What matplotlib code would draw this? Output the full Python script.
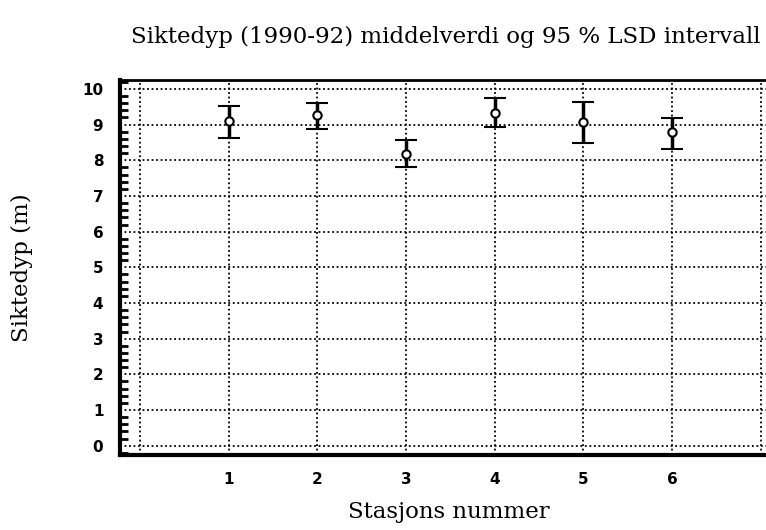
import numpy as np
import matplotlib.pyplot as plt
from matplotlib.ticker import MultipleLocator

stasjon = [1, 2, 3, 4, 5, 6]
middel = [9.09, 9.28, 8.17, 9.32, 9.06, 8.79]
ovre = [9.51, 9.60, 8.56, 9.74, 9.62, 9.19]
nedre = [8.63, 8.88, 7.80, 8.94, 8.49, 8.31]

yerr = [np.array(middel) - np.array(nedre), np.array(ovre) - np.array(middel)]

fig = plt.figure(figsize=(7.66, 5.30), dpi=100)
ax = fig.add_axes([120/766, 1 - 455/530, 646/766, 375/530])

ax.errorbar(stasjon, middel, yerr=yerr, fmt='o', color='black', mfc='white',
            mec='black', ms=6, mew=1.5, elinewidth=2.5, capsize=8, capthick=3.5,
            zorder=3)

ax.set_xlim(-0.226, 7.06)
ax.set_ylim(-0.26, 10.25)
ax.set_xticks(range(0, 8))
ax.set_xticklabels(['', '1', '2', '3', '4', '5', '6', ''])
ax.set_yticks(range(0, 11))
ax.yaxis.set_minor_locator(MultipleLocator(0.2))

ax.grid(True, which='major', color='black', linestyle=(0, (1, 1.5)), linewidth=1.3)
ax.tick_params(axis='x', length=0, labelsize=11, pad=12)
ax.tick_params(axis='y', which='major', direction='in', length=0, labelsize=11, pad=12)
ax.tick_params(axis='y', which='minor', direction='in', length=6, width=2)

for side in ['left', 'bottom']:
    ax.spines[side].set_linewidth(3)
ax.spines['top'].set_linewidth(2)
ax.spines['right'].set_visible(False)

for lab in ax.get_xticklabels() + ax.get_yticklabels():
    lab.set_fontweight('bold')

fig.text(446/766, 1 - 37/530, 'Siktedyp (1990-92) middelverdi og 95 % LSD intervall',
         ha='center', va='center', family='DejaVu Serif', fontsize=16.5)
fig.text(449/766, 1 - 512/530, 'Stasjons nummer', ha='center', va='center',
         family='DejaVu Serif', fontsize=16.5)
fig.text(22/766, 1 - 268/530, 'Siktedyp (m)', ha='center', va='center',
         rotation=90, family='DejaVu Serif', fontsize=16.5)

fig.savefig('out.png', dpi=100)
